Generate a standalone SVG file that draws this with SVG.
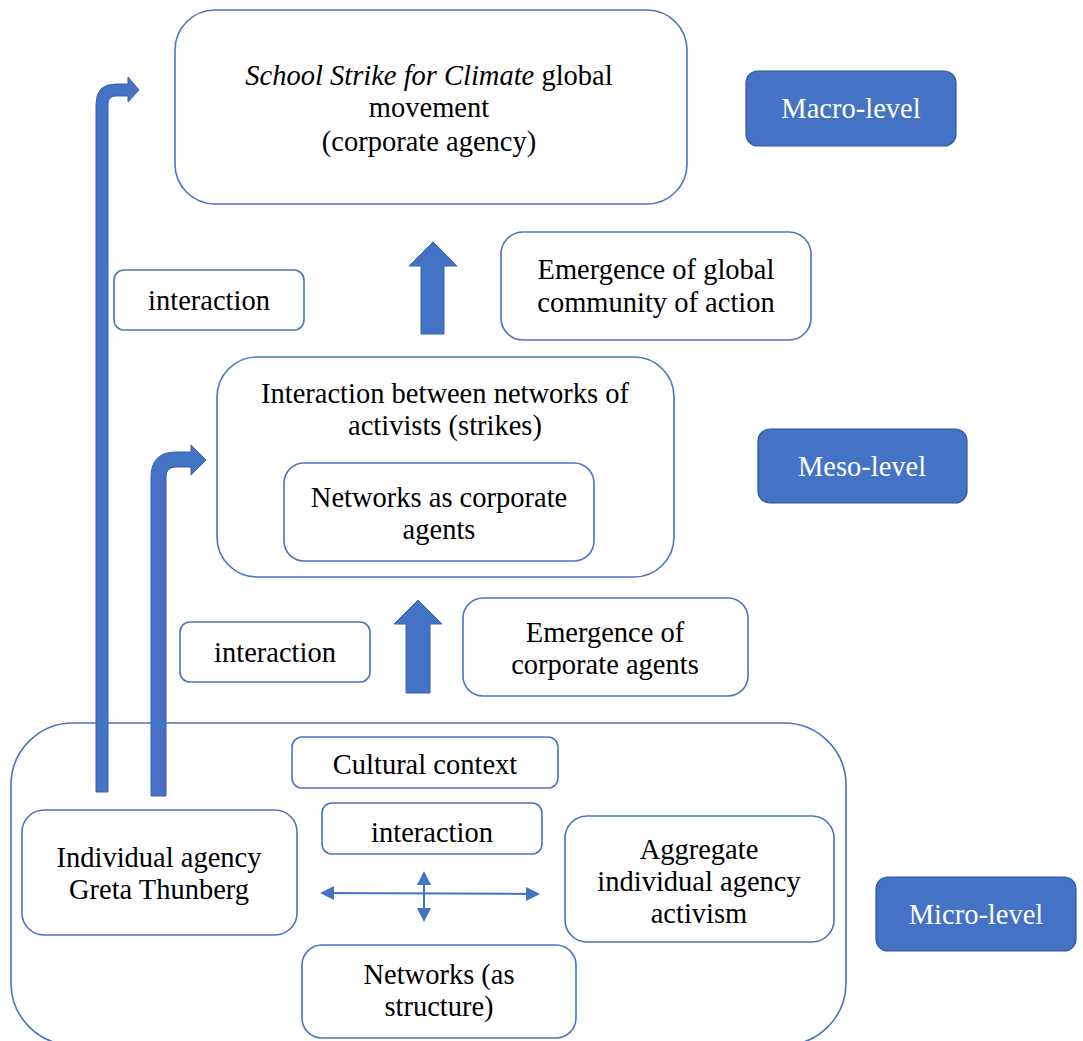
<svg xmlns="http://www.w3.org/2000/svg" width="1083" height="1041" viewBox="0 0 1083 1041" font-family="Liberation Serif, Times New Roman, DejaVu Serif, serif" font-size="28.5" text-anchor="middle">
<style>
.box{fill:#fff;stroke:#4A74C6;stroke-width:1.6}
.lvl{fill:#4472C4;stroke:#2F5597;stroke-width:1.2}
.t{fill:#000}
.tw{fill:#fff}
.arr{fill:#4472C4;stroke:#3A62AC;stroke-width:1}
.dl{stroke:#4472C4;stroke-width:2;fill:none}
</style>
<defs>
<marker id="ah" markerWidth="14" markerHeight="14" refX="11" refY="7" orient="auto-start-reverse" markerUnits="userSpaceOnUse" viewBox="0 0 14 14">
<path d="M0,0 L14,7 L0,14 Z" fill="#4472C4"/>
</marker>
</defs>
<rect width="1083" height="1041" fill="#fff"/>

<g id="micro">
<rect class="box" x="11" y="723" width="835" height="322" rx="62"/>
</g>
<g id="macro">
<rect class="box" x="175" y="10" width="512" height="194" rx="40"/>
<text class="t" x="429" y="85"><tspan font-style="italic">School Strike for Climate</tspan> global</text>
<text class="t" x="429" y="117">movement</text>
<text class="t" x="429" y="151">(corporate agency)</text>
</g>
<g id="macro-level">
<rect class="lvl" x="746" y="71" width="210" height="75" rx="12"/>
<text class="tw" x="851" y="118">Macro-level</text>
</g>
<g id="interaction-top">
<rect class="box" x="114" y="270" width="190" height="60" rx="10"/>
<text class="t" x="209" y="310">interaction</text>
</g>
<g id="emergence-global">
<rect class="box" x="501" y="232" width="310" height="108" rx="22"/>
<text class="t" x="656" y="279">Emergence of global</text>
<text class="t" x="656" y="312">community of action</text>
</g>
<g id="meso">
<rect class="box" x="217" y="357" width="457" height="220" rx="40"/>
<text class="t" x="445" y="403">Interaction between networks of</text>
<text class="t" x="445" y="435">activists (strikes)</text>
</g>
<g id="networks-corporate">
<rect class="box" x="284" y="463" width="310" height="98" rx="20"/>
<text class="t" x="439" y="507">Networks as corporate</text>
<text class="t" x="439" y="539">agents</text>
</g>
<g id="meso-level">
<rect class="lvl" x="758" y="429" width="209" height="74" rx="12"/>
<text class="tw" x="862" y="476">Meso-level</text>
</g>
<g id="interaction-mid">
<rect class="box" x="180" y="622" width="190" height="60" rx="10"/>
<text class="t" x="275" y="662">interaction</text>
</g>
<g id="emergence-corporate">
<rect class="box" x="463" y="598" width="285" height="98" rx="20"/>
<text class="t" x="605" y="642">Emergence of</text>
<text class="t" x="605" y="674">corporate agents</text>
</g>
<g id="cultural">
<rect class="box" x="292" y="737" width="266" height="51" rx="10"/>
<text class="t" x="425" y="774">Cultural context</text>
</g>
<g id="interaction-inner">
<rect class="box" x="322" y="803" width="220" height="51" rx="10"/>
<text class="t" x="432" y="842">interaction</text>
</g>
<g id="individual">
<rect class="box" x="22" y="810" width="275" height="125" rx="22"/>
<text class="t" x="159" y="867">Individual agency</text>
<text class="t" x="159" y="899">Greta Thunberg</text>
</g>
<g id="aggregate">
<rect class="box" x="565" y="816" width="269" height="126" rx="22"/>
<text class="t" x="699" y="859">Aggregate</text>
<text class="t" x="699" y="891">individual agency</text>
<text class="t" x="699" y="923">activism</text>
</g>
<g id="networks-structure">
<rect class="box" x="302" y="945" width="274" height="93" rx="20"/>
<text class="t" x="439" y="984">Networks (as</text>
<text class="t" x="439" y="1016">structure)</text>
</g>
<g id="micro-level">
<rect class="lvl" x="876" y="877" width="200" height="74" rx="12"/>
<text class="tw" x="976" y="924">Micro-level</text>
</g>

<g id="connectors">
<path class="arr" d="M96,792 L96,104 Q96,84 116,84 L128,84 L128,77 L139,90 L128,102 L128,96 L116,96 Q108,96 108,104 L108,792 Z"/>
<path class="arr" d="M151,796 L151,477 Q151,452 176,452 L191,452 L191,445 L206,460 L191,475 L191,467 L176,467 Q166,467 166,477 L166,796 Z"/>
<path class="arr" d="M421,334 L421,266 L409,266 L433,242 L457,266 L444,266 L444,334 Z"/>
<path class="arr" d="M406,693 L406,624 L394,624 L418,600 L442,624 L430,624 L430,693 Z"/>
<line class="dl" x1="323" y1="893" x2="537" y2="894" marker-start="url(#ah)" marker-end="url(#ah)"/>
<line class="dl" x1="424" y1="874" x2="424" y2="919" marker-start="url(#ah)" marker-end="url(#ah)"/>
</g>
</svg>
